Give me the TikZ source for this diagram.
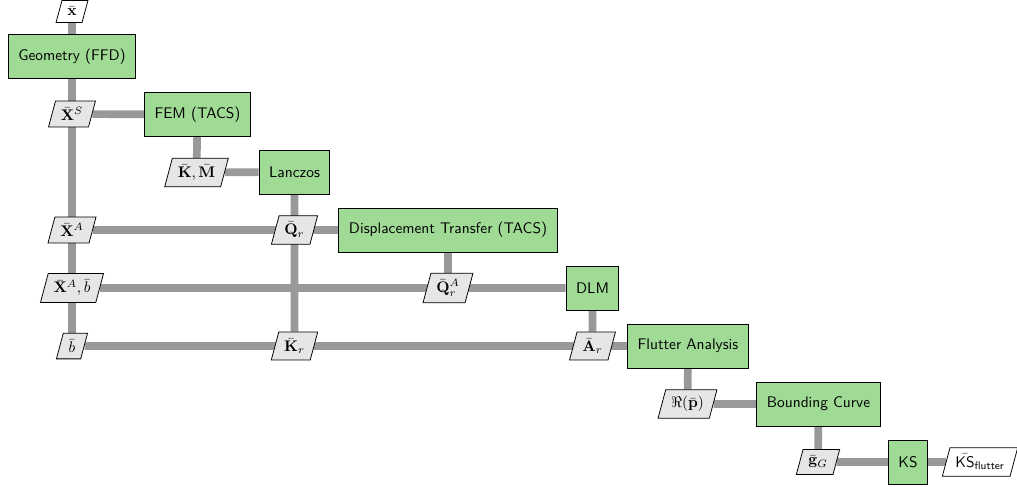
\documentclass[tikz,border=0pt]{standalone}
\usepackage{amsmath}
\usetikzlibrary{shapes.geometric,backgrounds}
\definecolor{procgreen}{RGB}{160,219,150}
\definecolor{datagray}{RGB}{230,230,230}
\definecolor{linkgray}{RGB}{153,153,153}
\tikzset{
  proc/.style={draw=black, line width=0.65pt, fill=procgreen, rectangle,
    minimum height=28.6pt, inner xsep=6.5pt, font=\sffamily},
  dat/.style={draw=black, line width=0.5pt, fill=datagray, trapezium,
    trapezium left angle=75, trapezium right angle=105,
    inner xsep=3.5pt, inner ysep=4.2pt, font=\sffamily},
  io/.style={dat, fill=white},
  link/.style={draw=linkgray, line width=5pt},
}
\begin{document}
\begin{tikzpicture}[x=0.65pt, y=-0.65pt]
\useasboundingbox (0,0) rectangle (1017,486);

% process blocks along the diagonal
\node[proc] (geo)   at (72,56.5)  {Geometry (FFD)};
\node[proc] (fem)   at (197.5,114.5) {FEM (TACS)};
\node[proc] (lan)   at (294.5,172) {Lanczos};
\node[proc] (disp)  at (448,230)  {Displacement Transfer (TACS)};
\node[proc] (dlm)   at (592.5,288) {DLM};
\node[proc] (flut)  at (688,346)  {Flutter Analysis};
\node[proc] (bound) at (818.5,404) {Bounding Curve};
\node[proc] (ks)    at (908,462)  {KS};

% data exchanged between blocks
\node[io]  (xin)  at (72,11.5)   {$\bar{\mathbf{x}}$};
\node[dat] (xs)   at (72,114)    {$\bar{\mathbf{X}}^S$};
\node[dat] (km)   at (196.5,172.5) {$\bar{\mathbf{K}}, \bar{\mathbf{M}}$};
\node[dat] (xa)   at (72,230)    {$\bar{\mathbf{X}}^A$};
\node[dat] (qr)   at (294.5,230) {$\bar{\mathbf{Q}}_r$};
\node[dat] (xab)  at (72,288)    {$\bar{\mathbf{X}}^A, \bar{b}$};
\node[dat] (qra)  at (448,288)   {$\bar{\mathbf{Q}}_r^A$};
\node[dat] (b)    at (72,346)    {$\bar{b}$};
\node[dat] (kr)   at (294.5,346) {$\bar{\mathbf{K}}_r$};
\node[dat] (ar)   at (592.5,346) {$\bar{\mathbf{A}}_r$};
\node[dat] (rp)   at (687.5,404) {$\Re(\bar{\mathbf{p}})$};
\node[dat] (gg)   at (818,462)   {$\bar{\mathbf{g}}_G$};
\node[io]  (ksout) at (980,462)  {$\bar{\text{KS}}_{\text{flutter}}$};

% connectors behind the blocks
\begin{scope}[on background layer]
  \draw[link] (xin) -- (b);
  \draw[link] (xs) -- (fem);
  \draw[link] (fem) -- (km);
  \draw[link] (km) -- (lan);
  \draw[link] (lan) -- (kr);
  \draw[link] (xa) -- (disp);
  \draw[link] (disp) -- (qra);
  \draw[link] (xab) -- (dlm);
  \draw[link] (dlm) -- (ar);
  \draw[link] (b) -- (flut);
  \draw[link] (flut) -- (rp);
  \draw[link] (rp) -- (bound);
  \draw[link] (bound) -- (gg);
  \draw[link] (gg) -- (ksout);
\end{scope}
\end{tikzpicture}
\end{document}
